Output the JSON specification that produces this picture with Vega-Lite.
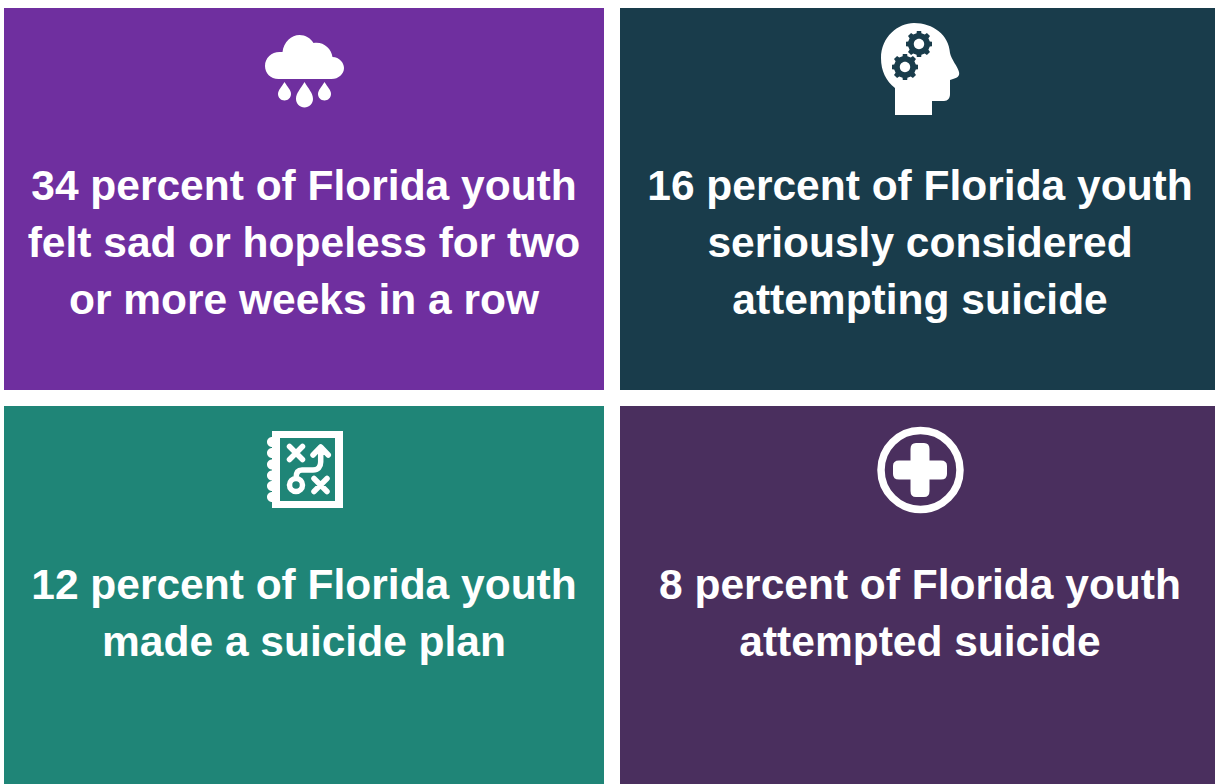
{"$schema":"https://vega.github.io/schema/vega-lite/v6.json","width":1215,"height":784,"padding":0,"autosize":{"type":"none"},"background":"white","config":{"view":{"stroke":null}},"datasets":{"panels":[{"panel":"sad","x0":4,"x1":604,"y0":8,"y1":390},{"panel":"considered","x0":620,"x1":1215,"y0":8,"y1":390},{"panel":"plan","x0":4,"x1":604,"y0":406,"y1":784},{"panel":"attempted","x0":620,"x1":1215,"y0":406,"y1":784}],"filled":[{"icon":"cloud","cx":304.5,"cy":70},{"icon":"head","cx":920,"cy":69},{"icon":"notebook","cx":308,"cy":470},{"icon":"cross","cx":920,"cy":470}],"gears":[{"cx":919,"cy":44},{"cx":905,"cy":67}],"stroked":[{"glyph":"route","cx":308,"cy":470},{"glyph":"ring","cx":920.5,"cy":470}],"lines":[{"text":"34 percent of Florida youth","cx":304,"cy":199.5},{"text":"felt sad or hopeless for two","cx":304,"cy":256.5},{"text":"or more weeks in a row","cx":304,"cy":313.5},{"text":"16 percent of Florida youth","cx":920,"cy":199.5},{"text":"seriously considered","cx":920,"cy":256.5},{"text":"attempting suicide","cx":920,"cy":313.5},{"text":"12 percent of Florida youth","cx":304,"cy":598.5},{"text":"made a suicide plan","cx":304,"cy":655.5},{"text":"8 percent of Florida youth","cx":920,"cy":598.5},{"text":"attempted suicide","cx":920,"cy":655.5}]},"layer":[{"data":{"name":"panels"},"mark":{"type":"rect"},"encoding":{"x":{"field":"x0","type":"quantitative","axis":null,"scale":{"domain":[0,1215],"nice":false,"zero":false}},"x2":{"field":"x1"},"y":{"field":"y0","type":"quantitative","axis":null,"scale":{"domain":[0,784],"reverse":true,"nice":false,"zero":false}},"y2":{"field":"y1"},"color":{"field":"panel","type":"nominal","legend":null,"scale":{"domain":["sad","considered","plan","attempted"],"range":["#6F2F9F","#193C4B","#1F8577","#4A2F5E"]}}}},{"data":{"name":"filled"},"mark":{"type":"point","filled":true,"fill":"white","opacity":1,"stroke":null,"size":4},"encoding":{"x":{"field":"cx","type":"quantitative"},"y":{"field":"cy","type":"quantitative"},"shape":{"field":"icon","type":"nominal","legend":null,"scale":{"domain":["cloud","head","notebook","cross"],"range":["M-26 9C-34 9 -39.5 3 -39.5 -4C-39.5 -12 -33 -18 -25 -18L-22 -18C-21 -28 -13 -35 -5 -35C1 -35 6 -32 9 -27C18 -29 27 -22 28 -13C35 -13 39.5 -7 39.5 -2C39.5 4 34 9 27 9ZM-20 12C-17 17 -13.5 20 -13.5 24A6.5 6.5 0 0 1 -26.5 24C-26.5 20 -23 17 -20 12ZM0 12C4 19 8.5 23 8.5 29A8.5 8.5 0 0 1 -8.5 29C-8.5 23 -4 19 0 12ZM20 12C23 17 26.5 20 26.5 24A6.5 6.5 0 0 1 13.5 24C13.5 20 17 17 20 12Z","M-25 46L-25 19C-34 12 -39 2 -39 -11C-39 -32 -22 -46 -6 -46C13 -46 29 -34 30 -16C31 -10 38 -2 39 3C40 7 37 9 33 10L30 11L30 25C30 29 28 32 24 32L12 32L12 46Z","M-36 -39L35 -39L35 38L-36 38ZM-28 -32L-28 31L27 31L27 -32ZM-41 -28A5 5 0 1 1 -31 -28A5 5 0 1 1 -41 -28ZM-41 -17A5 5 0 1 1 -31 -17A5 5 0 1 1 -41 -17ZM-41 -5.5A5 5 0 1 1 -31 -5.5A5 5 0 1 1 -41 -5.5ZM-41 5.5A5 5 0 1 1 -31 5.5A5 5 0 1 1 -41 5.5ZM-41 16A5 5 0 1 1 -31 16A5 5 0 1 1 -41 16ZM-41 27A5 5 0 1 1 -31 27A5 5 0 1 1 -41 27Z","M-9.5 -21Q-9.5 -27 -4 -27L4 -27Q9.5 -27 9.5 -21L9.5 -9.5L21 -9.5Q27 -9.5 27 -4L27 4Q27 9.5 21 9.5L9.5 9.5L9.5 21Q9.5 27 4 27L-4 27Q-9.5 27 -9.5 21L-9.5 9.5L-21 9.5Q-27 9.5 -27 4L-27 -4Q-27 -9.5 -21 -9.5L-9.5 -9.5Z"]}}}},{"data":{"name":"gears"},"mark":{"type":"point","filled":true,"fill":"#193C4B","opacity":1,"stroke":null,"size":4,"shape":"M10.8 2.4L9.4 5.8L11 7.9L7.9 11L5.8 9.4L2.4 10.8L2.2 13L-2.2 13L-2.4 10.8L-5.8 9.4L-7.9 11L-11 7.9L-9.4 5.8L-10.8 2.4L-13 2.2L-13 -2.2L-10.8 -2.4L-9.4 -5.8L-11 -7.9L-7.9 -11L-5.8 -9.4L-2.4 -10.8L-2.2 -13L2.2 -13L2.4 -10.8L5.8 -9.4L7.9 -11L11 -7.9L9.4 -5.8L10.8 -2.4L13 -2.2L13 2.2ZM5.2 0A5.2 5.2 0 0 0 -5.2 0A5.2 5.2 0 0 0 5.2 0Z"},"encoding":{"x":{"field":"cx","type":"quantitative"},"y":{"field":"cy","type":"quantitative"}}},{"data":{"name":"stroked"},"mark":{"type":"point","filled":false,"fill":null,"stroke":"white","opacity":1,"size":4,"strokeWidth":5,"strokeCap":"round","strokeJoin":"round"},"encoding":{"x":{"field":"cx","type":"quantitative"},"y":{"field":"cy","type":"quantitative"},"shape":{"field":"glyph","type":"nominal","legend":null,"scale":{"domain":["route","ring"],"range":["M-18.5 -23.5L-5.5 -10.5M-5.5 -23.5L-18.5 -10.5M6 8.5L19 21.5M19 8.5L6 21.5M-18.5 15A6.5 6.5 0 1 1 -5.5 15A6.5 6.5 0 1 1 -18.5 15M-12 8C-12 3 -10 0 -6 0L5 0C10 0 12.7 -3 12.7 -8L12.7 -22M5 -15L12.7 -23L20.3 -15","M-39.5 0A39.5 39.5 0 1 1 39.5 0A39.5 39.5 0 1 1 -39.5 0Z"]}},"strokeWidth":{"field":"glyph","type":"nominal","legend":null,"scale":{"domain":["route","ring"],"range":[5.5,7.5]}}}},{"data":{"name":"lines"},"mark":{"type":"text","font":"Liberation Sans","fontWeight":"bold","fontSize":42.5,"color":"white","align":"center","baseline":"alphabetic"},"encoding":{"x":{"field":"cx","type":"quantitative"},"y":{"field":"cy","type":"quantitative"},"text":{"field":"text","type":"nominal"}}}],"resolve":{"scale":{"shape":"independent"}}}
